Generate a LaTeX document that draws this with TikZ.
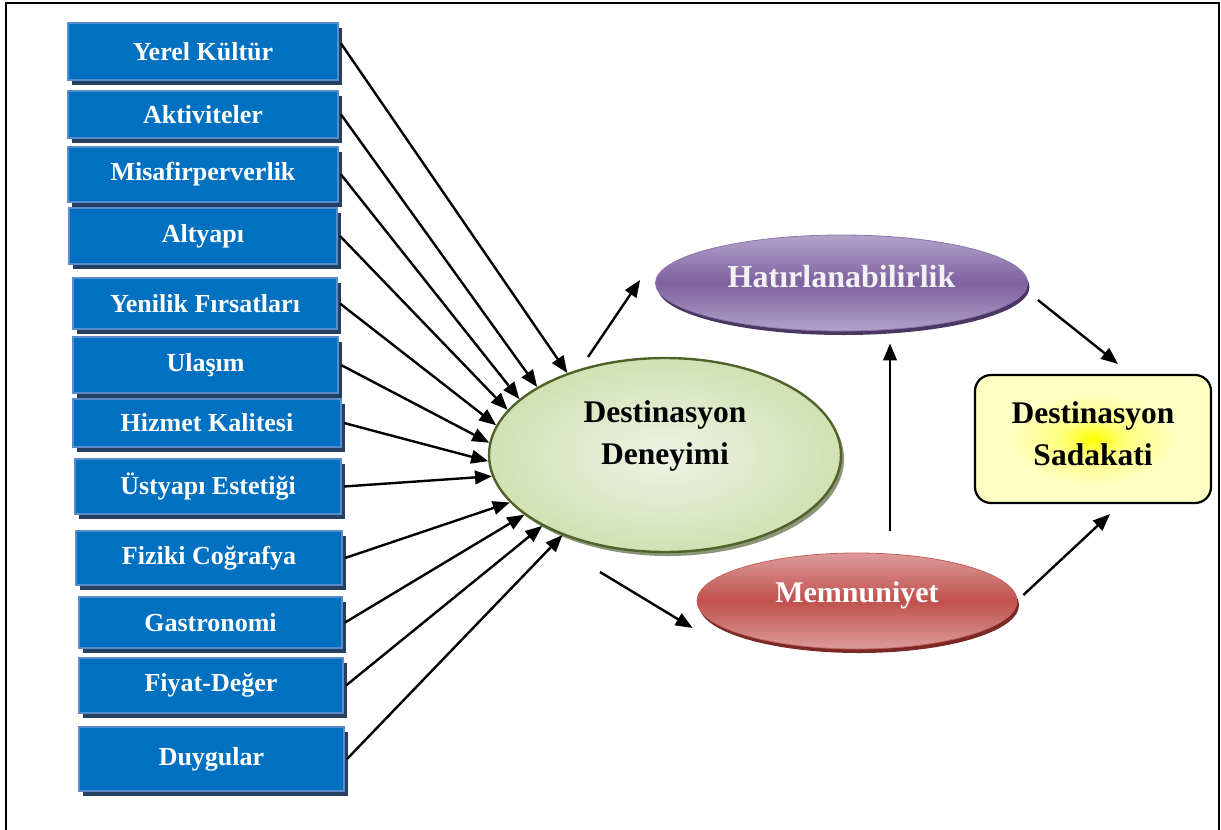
\documentclass[tikz,border=0pt]{standalone}
\usepackage{fontspec}
\setmainfont{Liberation Serif}
\usetikzlibrary{arrows.meta,shapes.geometric,shadows}

\definecolor{boxblue}{HTML}{0070C0}
\definecolor{boxline}{HTML}{5A8BCB}
\definecolor{boxshadow}{HTML}{243F60}
\definecolor{ddline}{HTML}{4F6228}
\definecolor{ddin}{HTML}{EEF4E4}
\definecolor{ddout}{HTML}{D2E0B4}
\definecolor{ddshadow}{HTML}{6E7A58}
\definecolor{hattop}{HTML}{B2A2C9}
\definecolor{hatmid}{HTML}{7E61A0}
\definecolor{hatline}{HTML}{8D74AE}
\definecolor{hatshadow}{HTML}{4A3863}
\definecolor{memtop}{HTML}{DC9C9A}
\definecolor{memmid}{HTML}{C0504D}
\definecolor{memline}{HTML}{C65E5B}
\definecolor{memshadow}{HTML}{7A2927}
\definecolor{sadin}{HTML}{FFFF00}
\definecolor{sadmid}{HTML}{FFFF80}
\definecolor{sadout}{HTML}{FFFFC4}

\pgfdeclareradialshading{sadglow}{\pgfpoint{0bp}{0bp}}{%
  color(0bp)=(sadin); color(7bp)=(sadmid); color(18bp)=(sadout); color(50bp)=(sadout)}

\begin{document}
\begin{tikzpicture}[x=1pt,y=-1pt,
  factor/.style={rectangle, inner sep=0pt, fill=boxblue, draw=boxline,
    line width=2pt, text=white, font=\fontsize{26}{30}\selectfont\bfseries,
    drop shadow={shadow xshift=4pt, shadow yshift=-5pt, fill=boxshadow, opacity=1}},
  conn/.style={line width=2.4pt, -{Triangle[length=17pt,width=13.5pt]}},
  bigtext/.style={align=center, inner sep=0pt, font=\fontsize{31.5}{42}\selectfont\bfseries},
]
\useasboundingbox (0,0) rectangle (1221,830);

% outer frame
\draw[line width=2pt] (6,830) -- (6,3) -- (1219,3) -- (1219,830);

% factor boxes
\node[factor, minimum width=270pt, minimum height=57pt] (f1)  at (203,51.5)   {Yerel Kültür};
\node[factor, minimum width=270pt, minimum height=47pt] (f2)  at (203,114.5)  {Aktiviteler};
\node[factor, minimum width=270pt, minimum height=55pt] (f3)  at (203,174.5)  {Misafirperverlik};
\node[factor, minimum width=268pt, minimum height=56pt] (f4)  at (203,236)    {Altyapı};
\node[factor, minimum width=264pt, minimum height=51pt] (f5)  at (205,303.5)  {Yenilik Fırsatları};
\node[factor, minimum width=265pt, minimum height=56pt] (f6)  at (205.5,365)  {Ulaşım};
\node[factor, minimum width=268pt, minimum height=48pt] (f7)  at (207,423)    {Hizmet Kalitesi};
\node[factor, minimum width=266pt, minimum height=55pt] (f8)  at (208,486.5)  {Üstyapı Estetiği};
\node[factor, minimum width=266pt, minimum height=54pt] (f9)  at (209,558)    {Fiziki Coğrafya};
\node[factor, minimum width=263pt, minimum height=51pt] (f10) at (210.5,622.5){Gastronomi};
\node[factor, minimum width=264pt, minimum height=55pt] (f11) at (211,685.5)  {Fiyat-Değer};
\node[factor, minimum width=265pt, minimum height=64pt] (f12) at (211.5,759)  {Duygular};

% destination experience
\node[ellipse, inner sep=0pt, minimum width=352pt, minimum height=194pt,
  draw=ddline, line width=2.4pt, inner color=ddin, outer color=ddout,
  drop shadow={shadow xshift=3pt, shadow yshift=-4pt, fill=ddshadow, opacity=0.8}]
  (dd) at (665,455) {};
\node[bigtext] (ddt) at ([yshift=19pt]dd.center) {Destinasyon\\Deneyimi};

% memorability
\node[ellipse, inner sep=0pt, minimum width=372pt, minimum height=96pt,
  draw=hatline, line width=0.8pt, top color=hattop, bottom color=hattop, middle color=hatmid,
  drop shadow={shadow xshift=2pt, shadow yshift=-4pt, fill=hatshadow, opacity=1}]
  (hat) at (841.5,283) {};
\node[inner sep=0pt, text=white!95!black, font=\fontsize{32}{38}\selectfont\bfseries]
  (hatt) at ([yshift=6pt]hat.center) {Hatırlanabilirlik};

% satisfaction
\node[ellipse, inner sep=0pt, minimum width=320pt, minimum height=96pt,
  draw=memline, line width=0.8pt, top color=memtop, bottom color=memtop, middle color=memmid,
  drop shadow={shadow xshift=2pt, shadow yshift=-4pt, fill=memshadow, opacity=1}]
  (mem) at (857,601) {};
\node[inner sep=0pt, text=white, font=\fontsize{30}{36}\selectfont\bfseries]
  (memt) at ([yshift=6pt]mem.center) {Memnuniyet};

% destination loyalty
\node[rectangle, rounded corners=16pt, inner sep=0pt, minimum width=236pt, minimum height=128pt,
  draw=black, line width=2.2pt, shading=sadglow]
  (sad) at (1093,439) {};
\node[bigtext] (sadt) at ([yshift=5pt]sad.center) {Destinasyon\\Sadakati};

% factors -> experience
\draw[conn] ([shift={(2,-8)}]f1.east) -- (dd.140);
\draw[conn] ([xshift=2pt]f2.east)  -- (dd.152);
\draw[conn] ([xshift=2pt]f3.east)  -- (dd.159);
\draw[conn] ([xshift=2pt]f4.east)  -- (dd.164);
\draw[conn] ([xshift=2pt]f5.east)  -- (dd.170);
\draw[conn] ([xshift=2pt]f6.east)  -- (dd.176);
\draw[conn] ([xshift=2pt]f7.east)  -- (dd.182);
\draw[conn] ([xshift=2pt]f8.east)  -- (dd.187);
\draw[conn] ([xshift=2pt]f9.east)  -- (dd.197);
\draw[conn] ([xshift=2pt]f10.east) -- (dd.203);
\draw[conn] ([xshift=2pt]f11.east) -- (dd.210);
\draw[conn] ([xshift=2pt]f12.east) -- (dd.218);

% structural paths
\draw[conn] ([shift={(-77,-98)}]dd.center) -- ([shift={(-15,-3)}]hat.west);
\draw[conn] ([shift={(-65,117)}]dd.center) -- ([shift={(-4,27)}]mem.west);
\draw[conn] ([shift={(33,-22)}]mem.north) -- ([shift={(48.5,12)}]hat.south);
\draw[conn] ([shift={(10,17)}]hat.east) -- ([shift={(25,-10)}]sad.north);
\draw[conn] ([shift={(6,-6)}]mem.east) -- ([shift={(17,10)}]sad.south);
\end{tikzpicture}
\end{document}
